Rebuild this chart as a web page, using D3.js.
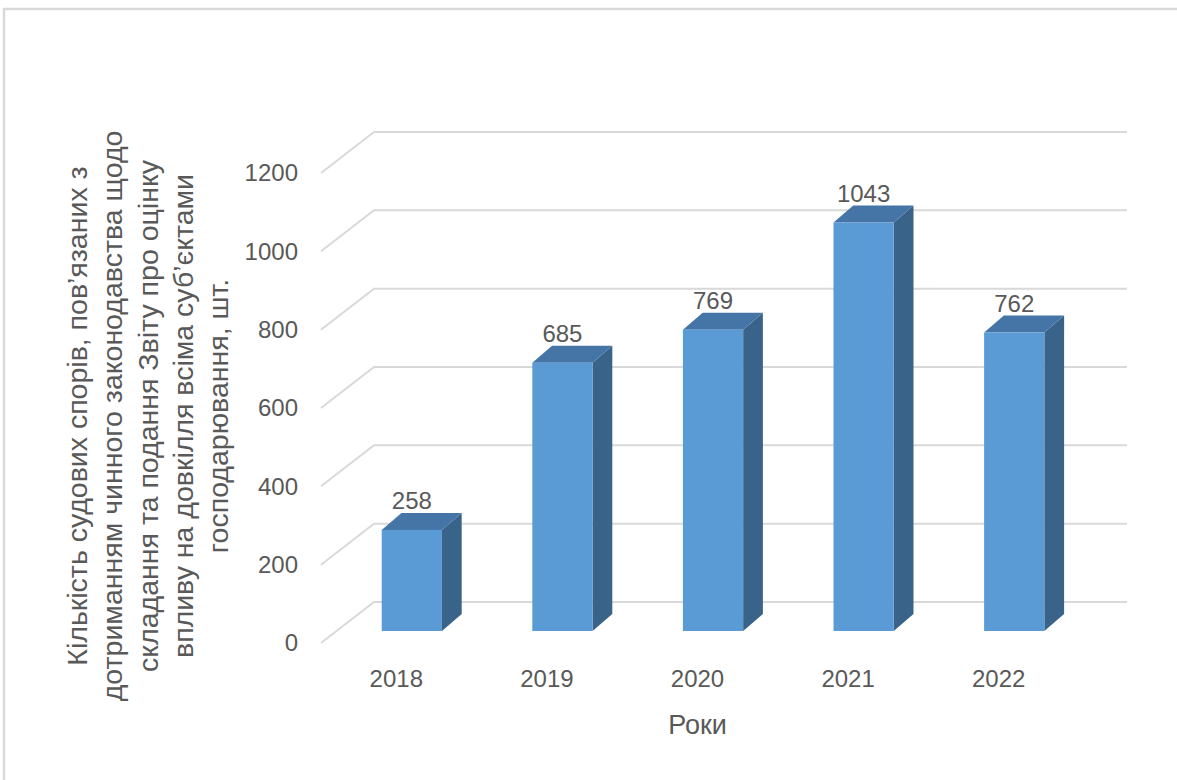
<!DOCTYPE html>
<html>
<head>
<meta charset="utf-8">
<script src="https://cdn.jsdelivr.net/npm/d3@7"></script>
<style>
  body { margin: 0; background: #fff; }
  text { font-family: "Liberation Sans", Arial, sans-serif; fill: #595959; }
</style>
</head>
<body>
<div id="canvas"></div>
<script>
const years = ["2018", "2019", "2020", "2021", "2022"];
const disputes = [258, 685, 769, 1043, 762];
const yTicks = [0, 200, 400, 600, 800, 1000, 1200];
const yTitle = [
  "Кількість судових спорів, пов’язаних з",
  "дотриманням чинного законодавства щодо",
  "складання та подання Звіту про оцінку",
  "впливу на довкілля всіма суб’єктами",
  "господарювання, шт."
];
const xTitle = "Роки";

const width = 1177;
const height = 780;

const svg = d3.select("#canvas").append("svg")
  .attr("width", width)
  .attr("height", height);

// chart area border
svg.append("rect")
  .attr("x", 4).attr("y", 9)
  .attr("width", 1190).attr("height", 800)
  .attr("fill", "none")
  .attr("stroke", "#d9d9d9")
  .attr("stroke-width", 2.5);

// oblique 3D: depth t in [0,1] shifts right/up
const depth = {dx: 53, dy: -41};
const shift = t => [depth.dx * t, depth.dy * t];

const y = d3.scaleLinear().domain([0, 1200]).range([643, 173]);

const x = d3.scaleBand()
  .domain(years)
  .range([321, 1074])
  .paddingInner(0.6)
  .paddingOuter(0.3);

// gridlines: diagonal on left wall, then along back wall
const grid = svg.append("g");
yTicks.forEach(v => {
  const [bx, by] = shift(1);
  grid.append("path")
    .attr("d", `M${x.range()[0]},${y(v)} L${x.range()[0] + bx},${y(v) + by} L${x.range()[1] + bx},${y(v) + by}`)
    .attr("fill", "none")
    .attr("stroke", "#d9d9d9")
    .attr("stroke-width", 2);
});

// bars, front face sits at depth t0, back at t1
const t0 = 0.293, t1 = 0.707;
const [fx, fy] = shift(t0);
const ddx = depth.dx * (t1 - t0) * 0.9, ddy = depth.dy * (t1 - t0);

const bars = svg.append("g").selectAll("g")
  .data(years.map((d, i) => ({year: d, value: disputes[i]})))
  .enter().append("g");

bars.each(function(d) {
  const g = d3.select(this);
  const x0 = x(d.year) + fx, x1 = x0 + x.bandwidth();
  const yb = y(0) + fy, yt = y(d.value) + fy;
  // side
  g.append("path")
    .attr("d", `M${x1},${yt} L${x1 + ddx},${yt + ddy} L${x1 + ddx},${yb + ddy} L${x1},${yb}Z`)
    .attr("fill", "#3a6389");
  // top
  g.append("path")
    .attr("d", `M${x0},${yt} L${x0 + ddx},${yt + ddy} L${x1 + ddx},${yt + ddy} L${x1},${yt}Z`)
    .attr("fill", "#4575a6");
  // front
  g.append("rect")
    .attr("x", x0).attr("y", yt)
    .attr("width", x.bandwidth()).attr("height", yb - yt)
    .attr("fill", "#5b9bd5");
  // label
  g.append("text")
    .attr("x", x0 + x.bandwidth() / 2)
    .attr("y", yt + ddy - 4)
    .attr("text-anchor", "middle")
    .style("font-size", "24px")
    .text(d.value);
});

// value axis labels
const yAxis = svg.append("g")
  .attr("transform", "translate(298,0)")
  .call(d3.axisLeft(y).tickValues(yTicks).tickFormat(d3.format("d")).tickSize(0).tickPadding(0));
yAxis.select(".domain").remove();
yAxis.selectAll("text")
  .attr("font-family", null).attr("fill", null)
  .style("font-size", "24px");

// category axis labels (front edge of floor)
const xAxis = svg.append("g")
  .attr("transform", "translate(0,670)")
  .call(d3.axisBottom(x.copy().paddingInner(0).paddingOuter(0)).tickSize(0).tickPadding(0));
xAxis.select(".domain").remove();
xAxis.selectAll("text")
  .attr("font-family", null).attr("fill", null)
  .style("font-size", "24px");

// axis titles
svg.append("text")
  .attr("x", (x.range()[0] + x.range()[1]) / 2)
  .attr("y", 734)
  .attr("text-anchor", "middle")
  .style("font-size", "27px")
  .text(xTitle);

const yt = svg.append("g").attr("transform", "translate(0,416) rotate(-90)");
yTitle.forEach((line, i) => {
  yt.append("text")
    .attr("x", 0)
    .attr("y", 87 + i * 35.3)
    .attr("text-anchor", "middle")
    .style("font-size", "28.5px")
    .text(line);
});
</script>
</body>
</html>
